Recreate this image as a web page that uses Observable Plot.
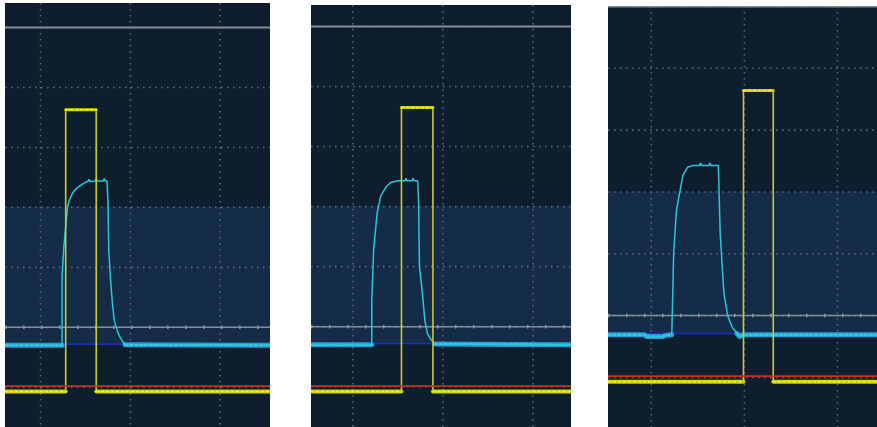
<!DOCTYPE html>
<html>
<head>
<meta charset="utf-8">
<script src="https://cdn.jsdelivr.net/npm/d3@7"></script>
<script src="https://cdn.jsdelivr.net/npm/@observablehq/plot@0.6"></script>
<style>
  html, body { margin: 0; padding: 0; background: #ffffff; }
  #wrap { position: relative; width: 877px; height: 427px; background: #ffffff; overflow: hidden; }
  .panel { position: absolute; box-sizing: border-box; }
  .panel svg { display: block; }
</style>
</head>
<body>
<div id="wrap"></div>
<script>
// ---- data (time and voltage in screen divisions) ----
const gridDivX = [0, 1, 2];
const gridDivY = [0, 1, 2, 3, 4, 5, 6];

// panel 1
const p1XDomain = [-0.39, 2.56];
const p1YDomain = [-0.67, 6.4];
const p1Levels = {red: 0.02, blue: 0.72, gray: 1, top: 6, band: 3};
const p1Yellow = [[-0.39,-0.07],[0.28,-0.07],[0.28,4.63],[0.62,4.63],[0.62,-0.07],[2.56,-0.07]];
const p1Cyan = [[-0.39,0.70],[0.24,0.70],[0.24,1.87],[0.26,2.35],[0.30,3.0],[0.32,3.12],[0.36,3.25],
  [0.41,3.33],[0.48,3.40],[0.53,3.44],[0.54,3.47],[0.55,3.43],[0.61,3.44],[0.62,3.48],[0.63,3.44],
  [0.70,3.44],[0.71,3.48],[0.72,3.44],[0.74,3.44],[0.75,3.12],[0.76,2.28],[0.78,1.78],[0.80,1.40],
  [0.82,1.12],[0.86,0.92],[0.89,0.82],[0.94,0.71],[2.56,0.70]];

// panel 2
const p2XDomain = [-0.46, 2.43];
const p2YDomain = [-0.68, 6.35];
const p2Levels = {red: 0.01, blue: 0.72, gray: 1, top: 6, band: 3};
const p2Yellow = [[-0.46,-0.08],[0.54,-0.08],[0.54,4.65],[0.89,4.65],[0.89,-0.08],[2.43,-0.08]];
const p2Cyan = [[-0.46,0.70],[0.21,0.70],[0.21,1.43],[0.23,2.27],[0.27,2.9],[0.31,3.18],[0.37,3.33],
  [0.42,3.40],[0.50,3.43],[0.58,3.43],[0.59,3.47],[0.60,3.43],[0.66,3.43],[0.67,3.47],[0.68,3.43],
  [0.72,3.43],[0.73,3.1],[0.74,2.0],[0.77,1.6],[0.80,1.1],[0.83,0.88],[0.87,0.78],[0.91,0.71],[2.43,0.70]];

// panel 3
const p3XDomain = [-0.46, 2.43];
const p3YDomain = [-0.81, 6.0];
const p3Levels = {red: 0.02, blue: 0.71, gray: 1, top: 6, band: 3};
const p3Yellow = [[-0.46,-0.07],[0.99,-0.07],[0.99,4.64],[1.31,4.64],[1.31,-0.07],[2.43,-0.07]];
const p3Cyan = [[-0.46,0.69],[-0.07,0.69],[-0.05,0.66],[0.12,0.66],[0.15,0.68],[0.22,0.69],[0.23,1.33],
  [0.24,2.0],[0.27,2.7],[0.31,3.03],[0.34,3.27],[0.39,3.40],[0.45,3.43],[0.52,3.43],[0.53,3.47],
  [0.54,3.43],[0.62,3.43],[0.63,3.47],[0.64,3.43],[0.72,3.43],[0.74,2.33],[0.78,1.36],[0.82,1.0],
  [0.87,0.81],[0.92,0.71],[0.95,0.66],[0.98,0.69],[2.43,0.69]];

// ---- layout (pixels) ----
const layout = [
  {left: 5,   top: 3, width: 265, height: 424, xd: p1XDomain, yd: p1YDomain, lv: p1Levels, yellow: p1Yellow, cyan: p1Cyan},
  {left: 311, top: 5, width: 260, height: 422, xd: p2XDomain, yd: p2YDomain, lv: p2Levels, yellow: p2Yellow, cyan: p2Cyan},
  {left: 608, top: 6, width: 269, height: 421, xd: p3XDomain, yd: p3YDomain, lv: p3Levels, yellow: p3Yellow, cyan: p3Cyan}
];

const C = {
  dark: "#0f1e2f", band: "#142c48", grid: "#55667a",
  gray: "#858c94", grayTick: "#8f969d", blue: "#1c2ec4", red: "#d42a1e",
  cyan: "#2cc4da", cyanBand: "#229fd4", cyanDots: "#6ed6ee",
  yellowEdge: "#c9c92a", yellowBand: "#cfcf08", yellowDots: "#eeee48"
};

const X = d => d[0], Y = d => d[1];

function leadRun(arr, thr, above) {
  const out = [];
  for (const d of arr) { if (above ? d[1] > thr : d[1] < thr) out.push(d); else break; }
  return out;
}
function trailRun(arr, thr, above) {
  return leadRun(arr.slice().reverse(), thr, above).reverse();
}
function topRun(arr, thr) { return arr.filter(d => d[1] > thr); }

const wrap = document.getElementById("wrap");
for (const p of layout) {
  const lv = p.lv;
  const cThr = lv.gray - 0.25;
  const cyanLead = leadRun(p.cyan, cThr, false);
  const cyanTrail = trailRun(p.cyan, cThr, false);
  const yLead = leadRun(p.yellow, 1, false);
  const yTrail = trailRun(p.yellow, 1, false);
  const yTop = topRun(p.yellow, 1);
  const bandRect = [{x1: p.xd[0], x2: p.xd[1], y1: lv.blue, y2: lv.band}];

  const bandLine = (data, color, w) => Plot.line(data, {x: X, y: Y, stroke: color, strokeWidth: w});
  const dotLine = (data, color, w, dash) => Plot.line(data, {x: X, y: Y, stroke: color, strokeWidth: w, strokeDasharray: dash});

  const chart = Plot.plot({
    width: p.width,
    height: p.height,
    margin: 0,
    x: {domain: p.xd, axis: null},
    y: {domain: p.yd, axis: null},
    clip: true,
    style: {background: C.dark},
    marks: [
      Plot.rect(bandRect, {x1: "x1", x2: "x2", y1: "y1", y2: "y2", fill: C.band}),
      Plot.ruleX(gridDivX, {stroke: C.grid, strokeWidth: 1.6, strokeDasharray: "1.6,4.4"}),
      Plot.ruleY(gridDivY, {stroke: C.grid, strokeWidth: 1.6, strokeDasharray: "1.6,4.4"}),
      Plot.ruleY([lv.top], {stroke: C.gray, strokeWidth: 2}),
      Plot.ruleY([lv.gray], {stroke: C.gray, strokeWidth: 1.5}),
      Plot.ruleY([lv.gray], {stroke: C.grayTick, strokeWidth: 3.5, strokeDasharray: "1.5,16.5"}),
      Plot.ruleY([lv.blue], {stroke: C.blue, strokeWidth: 1.6}),
      // cyan channel
      bandLine(cyanLead, C.cyanBand, 5),
      bandLine(cyanTrail, C.cyanBand, 5),
      dotLine(cyanLead, C.cyanDots, 1.8, "2,3"),
      dotLine(cyanTrail, C.cyanDots, 1.8, "2,3"),
      Plot.line(p.cyan, {x: X, y: Y, stroke: C.cyan, strokeWidth: 1.5, strokeLinejoin: "miter"}),
      // yellow channel
      Plot.line(p.yellow, {x: X, y: Y, stroke: C.yellowEdge, strokeWidth: 1.6}),
      bandLine(yLead, C.yellowBand, 4),
      bandLine(yTrail, C.yellowBand, 4),
      bandLine(yTop, C.yellowBand, 3),
      dotLine(yLead, C.yellowDots, 1.6, "2,3"),
      dotLine(yTrail, C.yellowDots, 1.6, "2,3"),
      dotLine(yTop, C.yellowDots, 1.4, "2,3"),
      Plot.ruleY([lv.red], {stroke: C.red, strokeWidth: 1.8})
    ]
  });

  const div = document.createElement("div");
  div.className = "panel";
  div.style.left = p.left + "px";
  div.style.top = p.top + "px";
  div.style.width = p.width + "px";
  div.style.height = p.height + "px";
  div.appendChild(chart);
  wrap.appendChild(div);
}
</script>
</body>
</html>
